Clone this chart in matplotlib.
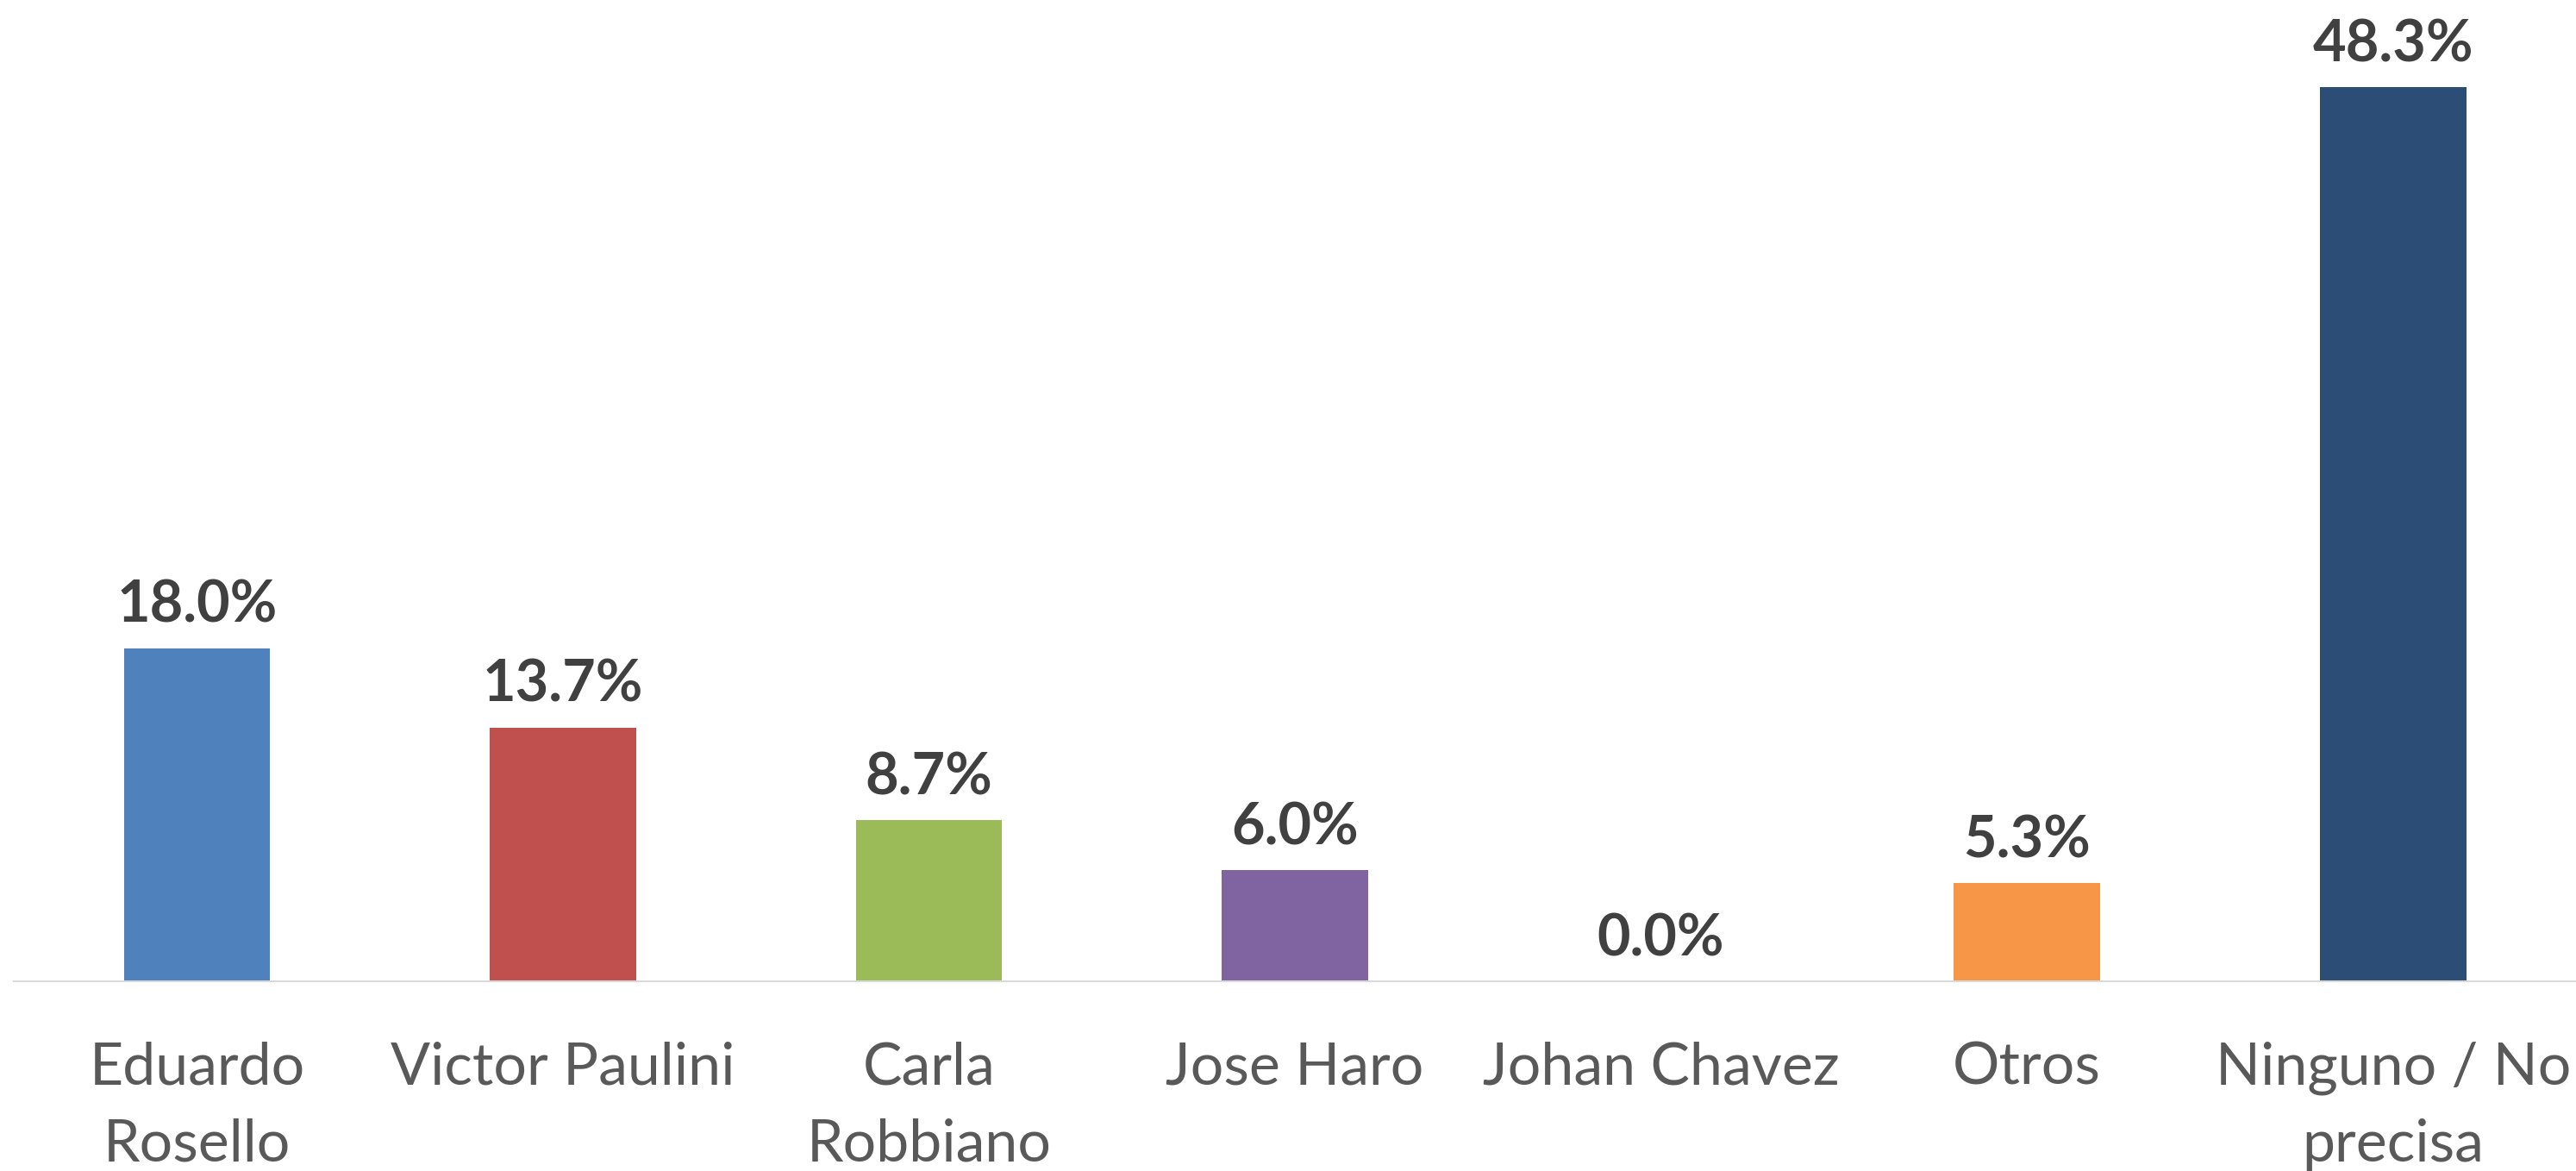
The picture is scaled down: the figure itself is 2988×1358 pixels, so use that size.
import matplotlib.pyplot as plt
import numpy as np

candidates = ['Eduardo\nRosello', 'Victor Paulini', 'Carla\nRobbiano', 'Jose Haro',
              'Johan Chavez', 'Otros', 'Ninguno / No\nprecisa']
share = [18.0, 13.7, 8.7, 6.0, 0.0, 5.3, 48.3]
colors = ['#4F81BD', '#C0504D', '#9BBB59', '#8064A2', '#4BACC6', '#F79646', '#2C4D75']

plt.rcParams['font.family'] = ['Lato', 'DejaVu Sans']

fig = plt.figure(figsize=(29.88, 13.58), dpi=100)
ax = fig.add_axes([0.0054, 0.162, 0.9946, 0.838])

x = np.arange(len(candidates))
bars = ax.bar(x, share, width=0.40, color=colors, zorder=2)

for xi, v in zip(x, share):
    ax.annotate('%.1f%%' % v, (xi, v), xytext=(0, 21.5), textcoords='offset points',
                ha='center', va='baseline', fontsize=48, fontweight='bold', color='#404040')

ax.set_xlim(-0.5, len(candidates) - 0.5)
ax.set_ylim(0, 53)
ax.set_xticks(x)
ax.set_xticklabels(candidates, fontsize=49, color='#595959', multialignment='center',
                   linespacing=1.55)
ax.tick_params(axis='x', length=0, pad=50)
ax.set_yticks([])
for s in ['top', 'right', 'left']:
    ax.spines[s].set_visible(False)
ax.spines['bottom'].set_color('#D9D9D9')
ax.spines['bottom'].set_linewidth(1.5)

fig.savefig('out.png', dpi=100)
